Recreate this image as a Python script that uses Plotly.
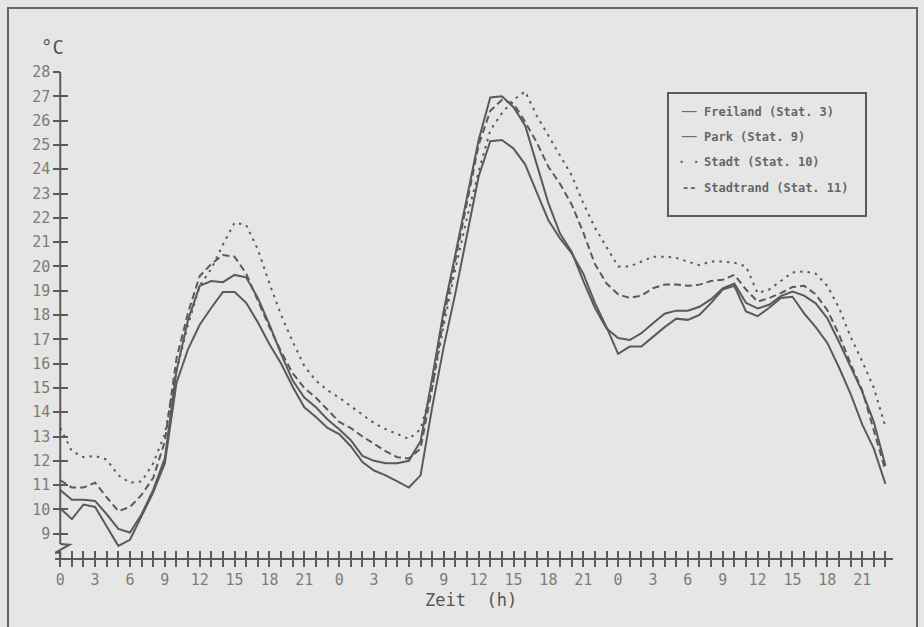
import plotly.graph_objects as go

# ---------------- data ----------------
hours = list(range(72))
x_tick_text = [str(h % 24) if h % 3 == 0 else "" for h in hours]
y_ticks = list(range(9, 29))

freiland = [10.05, 9.6, 10.2, 10.1, 9.3, 8.5, 8.75, 9.7, 10.7, 11.9, 15.2, 16.6,
            17.6, 18.3, 18.95, 18.95, 18.5, 17.7, 16.8, 16.0, 15.05, 14.2, 13.8, 13.35,
            13.1, 12.6, 11.95, 11.6, 11.4, 11.15, 10.9, 11.4, 14.2, 16.7, 18.9, 21.3,
            23.7, 25.15, 25.2, 24.85, 24.2, 23.05, 21.9, 21.15, 20.55, 19.7, 18.5, 17.5,
            16.4, 16.7, 16.7, 17.1, 17.5, 17.85, 17.8, 18.0, 18.5, 19.05, 19.2, 18.15,
            17.95, 18.3, 18.7, 18.75, 18.07, 17.5, 16.85, 15.85, 14.75, 13.5, 12.5, 11.05]

park = [10.8, 10.4, 10.4, 10.35, 9.8, 9.2, 9.05, 9.8, 10.8, 12.1, 15.7, 17.8,
        19.2, 19.4, 19.35, 19.65, 19.55, 18.7, 17.6, 16.4, 15.3, 14.6, 14.2, 13.7,
        13.3, 12.85, 12.2, 12.0, 11.9, 11.9, 12.0, 12.8, 15.4, 18.2, 20.5, 22.8,
        25.2, 26.95, 27.0, 26.55, 25.8, 24.2, 22.6, 21.35, 20.6, 19.4, 18.3, 17.45,
        17.05, 16.97, 17.25, 17.66, 18.05, 18.18, 18.18, 18.34, 18.65, 19.1, 19.3, 18.5,
        18.27, 18.42, 18.78, 18.96, 18.8, 18.48, 17.86, 16.9, 15.85, 14.85, 13.6, 11.8]

stadt = [13.35, 12.4, 12.15, 12.2, 12.05, 11.4, 11.1, 11.15, 11.9, 13.1, 15.7, 17.6,
         19.2, 19.9, 20.9, 21.8, 21.7, 20.7, 19.3, 18.0, 16.9, 15.9, 15.3, 14.9,
         14.6, 14.25, 13.9, 13.55, 13.3, 13.1, 12.9, 13.3, 15.0, 17.6, 19.9, 22.0,
         23.9, 25.6, 26.3, 26.85, 27.2, 26.2, 25.4, 24.6, 23.75, 22.6, 21.6, 20.8,
         20.0, 20.0, 20.2, 20.4, 20.4, 20.35, 20.2, 20.05, 20.2, 20.2, 20.15, 20.0,
         18.9, 19.05, 19.4, 19.75, 19.8, 19.7, 19.2, 18.3, 17.1, 16.1, 15.0, 13.4]

stadtrand = [11.2, 10.9, 10.9, 11.1, 10.5, 9.93, 10.1, 10.6, 11.3, 12.8, 16.2, 18.1,
             19.6, 20.1, 20.47, 20.4, 19.7, 18.6, 17.5, 16.5, 15.6, 15.0, 14.6, 14.1,
             13.6, 13.35, 13.0, 12.7, 12.4, 12.15, 12.1, 12.5, 15.0, 17.9, 20.3, 22.6,
             25.0, 26.4, 26.85, 26.7, 25.95, 25.1, 24.1, 23.4, 22.55, 21.4, 20.1, 19.3,
             18.85, 18.7, 18.8, 19.1, 19.25, 19.25, 19.2, 19.25, 19.4, 19.45, 19.65, 19.05,
             18.55, 18.7, 18.9, 19.15, 19.2, 18.85, 18.2, 17.2, 16.0, 14.9, 13.2, 11.6]

series_names = ["Freiland (Stat. 3)", "Park (Stat. 9)", "Stadt (Stat. 10)", "Stadtrand (Stat. 11)"]
series_values = [freiland, park, stadt, stadtrand]
series_dash = ["solid", "solid", "2.5px,5px", "7px,4px"]
legend_symbols = ["──", "──", "· ·", "--"]

# ---------------- layout geometry ----------------
W, H = 924, 627
L, PW, T, PH = 55, 838, 72, 486
B = H - T - PH
R = W - L - PW
XR = [-0.45, 71.65]
YR = [8, 28]
INK = "#5a5a5a"
TXT = "#7c7c7c"
BG = "#e6e6e6"
MONO = "DejaVu Sans Mono"


def px(x):
    return (x - L) / PW


def py(y):
    return (T + PH - y) / PH


fig = go.Figure()
for name, vals, dash in zip(series_names, series_values, series_dash):
    fig.add_trace(go.Scatter(x=hours, y=vals, mode="lines", name=name,
                             line=dict(color=INK, width=2, dash=dash),
                             showlegend=False, hoverinfo="skip"))
# empty helper trace so the overlay axes (crossing ticks) are drawn
fig.add_trace(go.Scatter(x=[], y=[], xaxis="x2", yaxis="y2", showlegend=False))

ypos = (0 - XR[0]) / (XR[1] - XR[0])
common_x = dict(range=XR, tickvals=hours, showgrid=False, zeroline=False,
                ticklen=7, tickwidth=2, tickcolor=INK, automargin=False)
common_y = dict(range=YR, tickvals=y_ticks, showgrid=False, zeroline=False,
                ticklen=7, tickwidth=2, tickcolor=INK, anchor="free", position=ypos,
                automargin=False)

fig.update_layout(
    width=W, height=H, autosize=False,
    margin=dict(l=L, r=R, t=T, b=B, pad=0),
    paper_bgcolor=BG, plot_bgcolor=BG,
    font=dict(family=MONO, color=TXT, size=15),
    xaxis=dict(**common_x, ticks="outside", ticktext=x_tick_text,
               showline=True, linecolor=INK, linewidth=2, anchor="y",
               tickfont=dict(family=MONO, size=15, color=TXT)),
    xaxis2=dict(**common_x, ticks="inside", overlaying="x", anchor="y2",
                showticklabels=False, showline=False, side="bottom"),
    yaxis=dict(**common_y, ticks="outside", showline=False,
               tickfont=dict(family=MONO, size=15, color=TXT)),
    yaxis2=dict(**common_y, ticks="inside", overlaying="y", side="left",
                showticklabels=False, showline=False),
)

shapes = [
    # outer frame of the figure
    dict(type="rect", xref="paper", yref="paper", x0=px(8), x1=px(917),
         y0=py(640), y1=py(8), line=dict(color="#666666", width=2)),
    # y axis with break symbol
    dict(type="line", xref="x", yref="y", x0=0, x1=0, y0=8.58, y1=28,
         line=dict(color=INK, width=2)),
    dict(type="path", xref="x", yref="y",
         path="M 0,8.58 L 0.8,8.55 L -0.4,8.22 L 0,8.22 L 0,8",
         line=dict(color=INK, width=2)),
    # legend box
    dict(type="rect", xref="paper", yref="paper", x0=px(668), x1=px(866),
         y0=py(216), y1=py(93), line=dict(color=INK, width=2)),
]
fig.update_layout(shapes=shapes)

ann = [
    dict(text="°C", x=px(52), y=py(47), xref="paper", yref="paper",
         xanchor="center", yanchor="middle",
         showarrow=False, font=dict(family=MONO, size=19, color="#555555")),
    dict(text="Zeit  (h)", x=px(471), y=py(600), xref="paper", yref="paper",
         xanchor="center", yanchor="middle",
         showarrow=False, font=dict(family=MONO, size=17, color="#555555")),
]
row_y = [112, 137, 162, 188]
for sym, name, yy in zip(legend_symbols, series_names, row_y):
    ann.append(dict(text="<b>" + sym + "</b>", x=px(689), y=py(yy), xref="paper", yref="paper",
                    xanchor="center", yanchor="middle", showarrow=False,
                    font=dict(family=MONO, size=12, color="#606060")))
    ann.append(dict(text="<b>" + name + "</b>", x=px(702), y=py(yy), xref="paper", yref="paper",
                    xanchor="left", yanchor="middle", showarrow=False,
                    font=dict(family=MONO, size=12, color="#666666")))
fig.update_layout(annotations=ann)

fig.write_html("out.html", config={"displayModeBar": False},
               post_script="document.body.style.margin='0';")
